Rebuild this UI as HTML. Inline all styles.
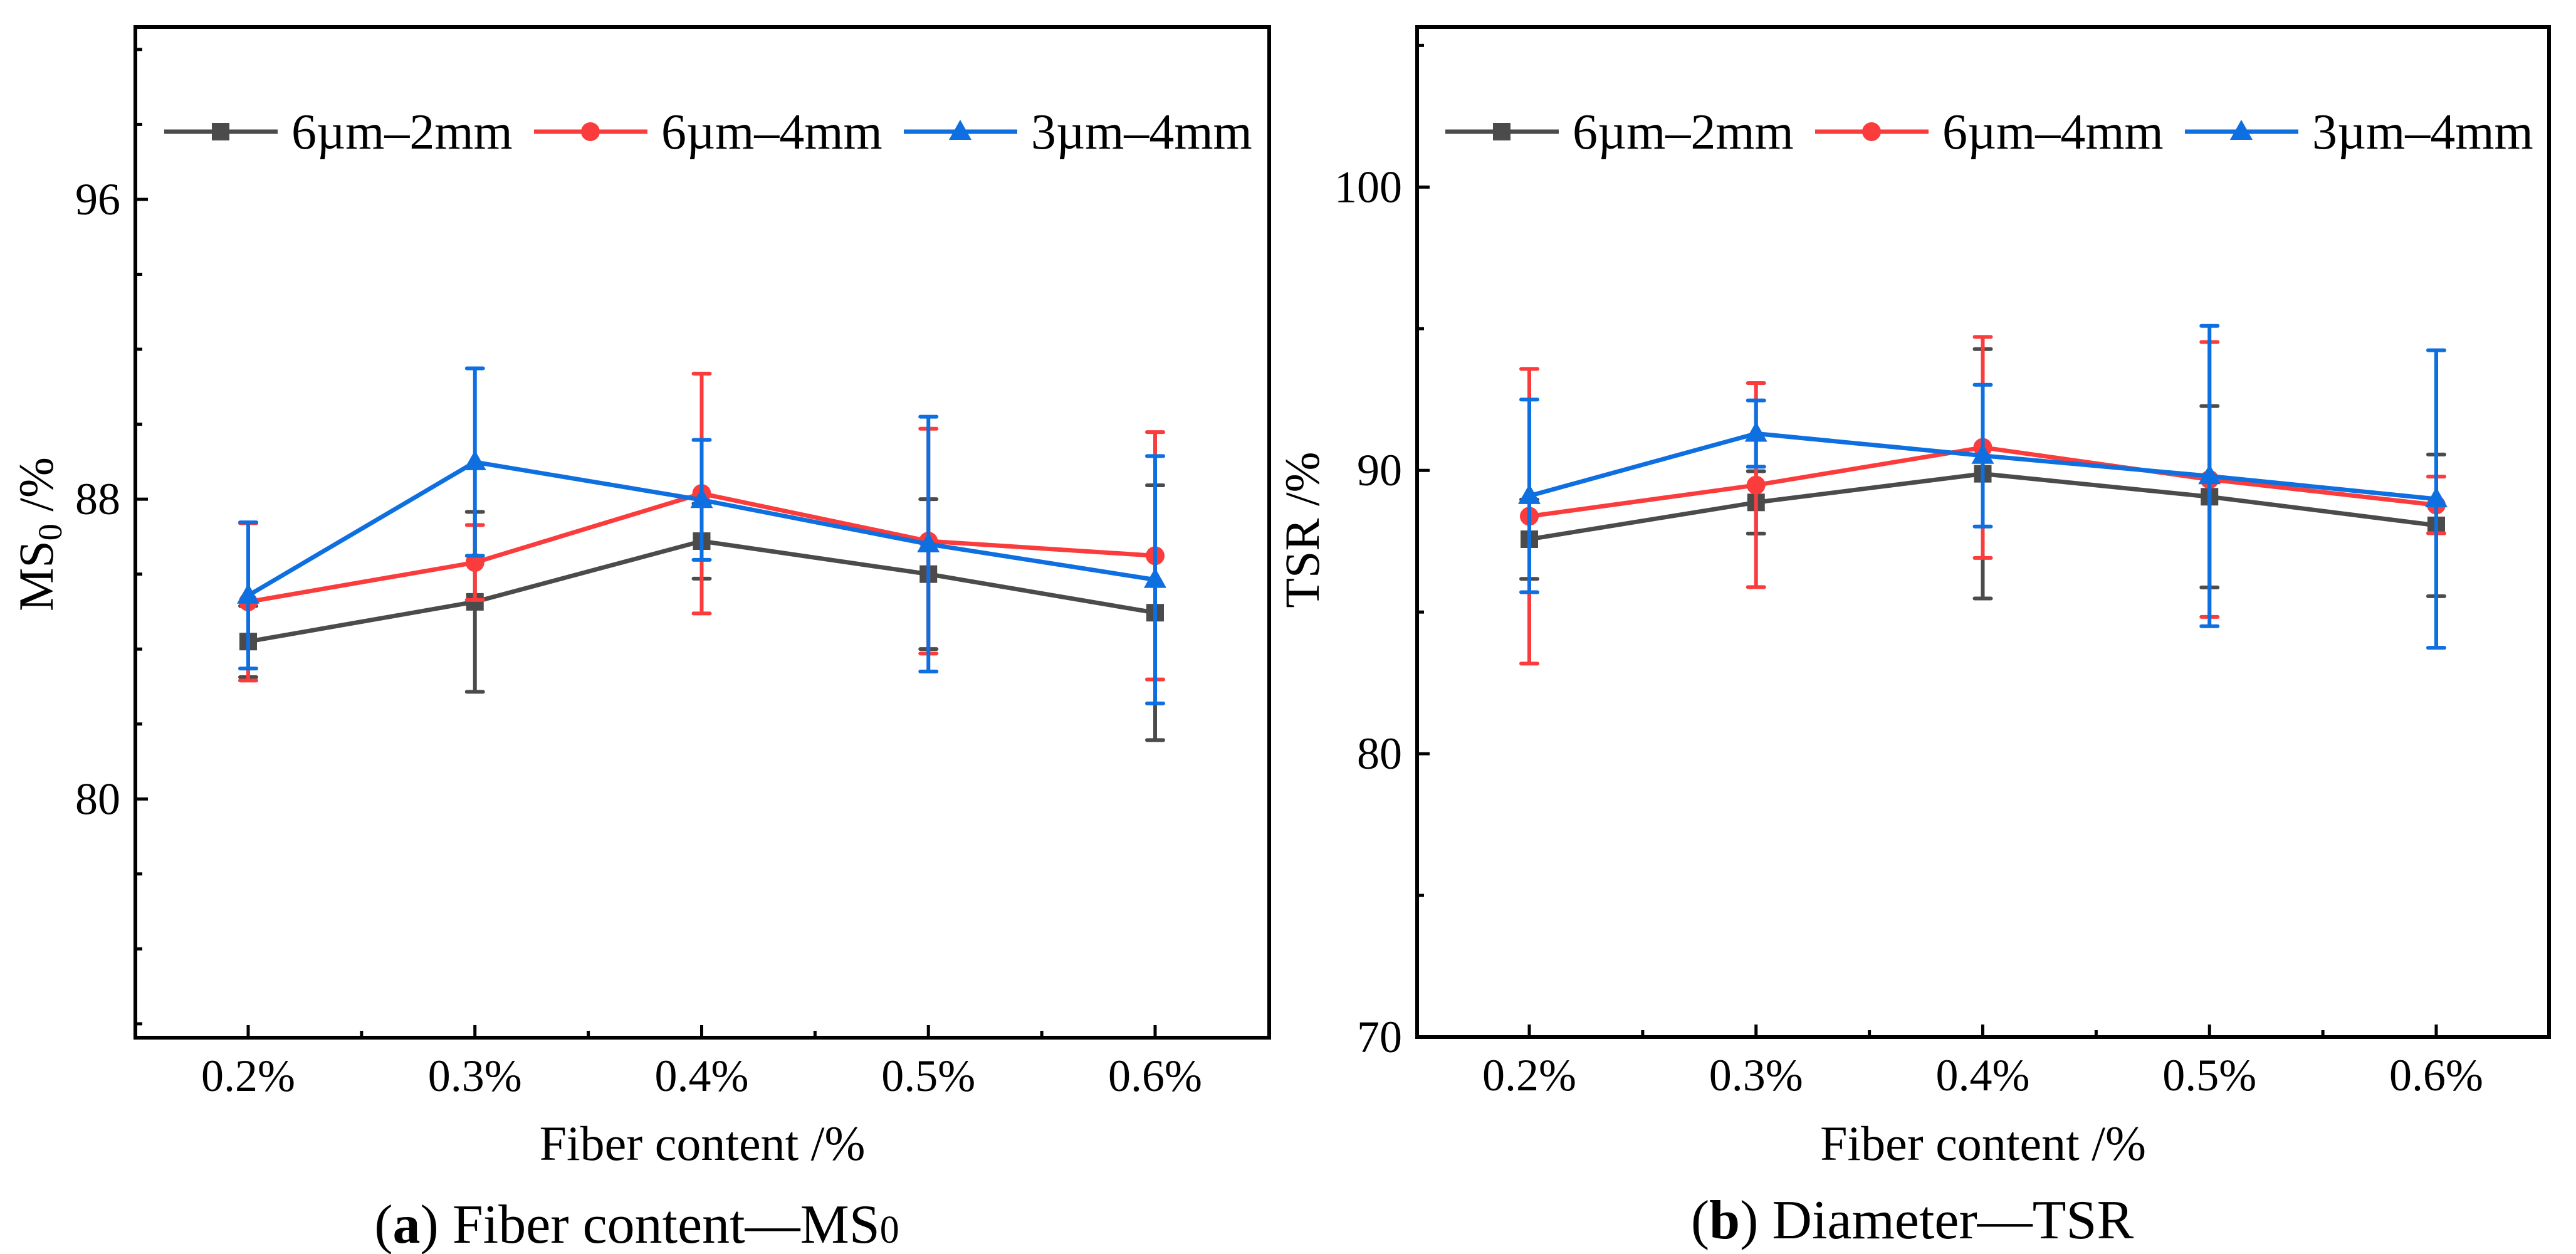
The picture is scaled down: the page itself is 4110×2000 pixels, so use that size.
<!DOCTYPE html>
<html><head><meta charset="utf-8"><style>
html,body{margin:0;padding:0;background:#fff;}
svg{display:block;font-family:"Liberation Serif",serif;}
</style></head><body>
<svg id="fig" width="4110" height="2000" viewBox="0 0 4110 2000"></svg>
<script>
const categories = ["0.2%","0.3%","0.4%","0.5%","0.6%"];
const seriesNames = ["6µm–2mm","6µm–4mm","3µm–4mm"];
// Panel a: MS0
const msBlack = [84.2, 85.26, 86.88, 86.0, 84.97];
const msBlackErr = [0.95, 2.4, 1.0, 2.0, 3.4];
const msRed = [85.26, 86.31, 88.15, 86.88, 86.49];
const msRedErr = [2.1, 1.0, 3.2, 3.0, 3.3];
const msBlue = [85.43, 88.99, 87.98, 86.8, 85.85];
const msBlueErr = [1.95, 2.5, 1.6, 3.4, 3.3];
const msTicks = [80, 88, 96];
// Panel b: TSR
const tsrBlack = [87.57, 88.87, 89.88, 89.07, 88.06];
const tsrBlackErr = [1.4, 1.1, 4.4, 3.2, 2.5];
const tsrRed = [88.38, 89.48, 90.81, 89.68, 88.78];
const tsrRedErr = [5.2, 3.6, 3.9, 4.85, 1.0];
const tsrBlue = [89.1, 91.3, 90.52, 89.8, 88.99];
const tsrBlueErr = [3.4, 1.17, 2.5, 5.3, 5.25];
const tsrTicks = [70, 80, 90, 100];

const NS = "http://www.w3.org/2000/svg";
const svg = document.getElementById('fig');
const colors = ["#4b4b4b","#fa3c3c","#0e6fe0"];
function mk(tag, attrs, parent){const e=document.createElementNS(NS,tag);for(const k in attrs)e.setAttribute(k,attrs[k]);(parent||svg).appendChild(e);return e;}

function panel(cfg){
  const g = mk('g',{});
  
  
  const {L,R,T,B,x0,x1,ymin,ymax,minorStep} = cfg;
  const xs = i => x0 + (x1-x0)*i/(categories.length-1);
  const ys = v => B - (v-ymin)/(ymax-ymin)*(B-T);
  const frame = mk('rect',{x:L,y:T,width:R-L,height:B-T,fill:'none',stroke:'#000','stroke-width':6},g);
  
  
  for(let v=Math.ceil(ymin/minorStep)*minorStep; v<=ymax; v+=minorStep){
    const y=ys(v); const major=cfg.ticks.includes(v);
    mk('line',{x1:L,x2:L+(major?20:11),y1:y,y2:y,stroke:'#000','stroke-width':5},g);
  }
  cfg.ticks.forEach(v=>{
    const t=mk('text',{x:L-24,y:ys(v)+24,'text-anchor':'end','font-size':72},g);
    t.textContent=v;
    
    
  });
  categories.forEach((c,i)=>{
    const x=xs(i);
    mk('line',{x1:x,x2:x,y1:B,y2:B-20,stroke:'#000','stroke-width':5},g);
    if(i<categories.length-1){const xm=(x+xs(i+1))/2;mk('line',{x1:xm,x2:xm,y1:B,y2:B-11,stroke:'#000','stroke-width':5},g);}
    const t=mk('text',{x:x,y:B+85,'text-anchor':'middle','font-size':72},g);
    t.textContent=c;
    
    
  });
  cfg.series.forEach((s,k)=>{
    const sg=mk('g',{},g);
    
    
    const col=colors[k];
    s.v.forEach((v,i)=>{
      const x=xs(i), yt=ys(v+s.e[i]), yb=ys(v-s.e[i]);
      mk('line',{x1:x,x2:x,y1:yt,y2:yb,stroke:col,'stroke-width':6},sg);
      mk('line',{x1:x-13,x2:x+13,y1:yt,y2:yt,stroke:col,'stroke-width':6,'stroke-linecap':'round'},sg);
      mk('line',{x1:x-13,x2:x+13,y1:yb,y2:yb,stroke:col,'stroke-width':6,'stroke-linecap':'round'},sg);
    });
    const pts=s.v.map((v,i)=>xs(i)+','+ys(v)).join(' ');
    const pl=mk('polyline',{points:pts,fill:'none',stroke:col,'stroke-width':7},sg);
    
    
    s.v.forEach((v,i)=>{
      const m=marker(k,xs(i),ys(v),sg);
      
      
    });
  });
  const lg=mk('g',{},g);
  
  
  seriesNames.forEach((n,k)=>{
    const lx=cfg.legX+k*590, ly=cfg.legY;
    const eg=mk('g',{},lg);
    
    
    mk('line',{x1:lx,x2:lx+181,y1:ly,y2:ly,stroke:colors[k],'stroke-width':7},eg);
    marker(k,lx+90,ly,eg);
    const t=mk('text',{x:lx+203,y:ly+27,'font-size':80},eg);
    t.textContent=n;
  });
  const xt=mk('text',{x:(L+R)/2,y:1850,'text-anchor':'middle','font-size':78},g);
  xt.textContent='Fiber content /%';
  
  
  const yt=mk('text',{transform:`translate(${cfg.ytX},${cfg.ytY}) rotate(-90)`,'text-anchor':'middle','font-size':78},g);
  yt.innerHTML=cfg.ytitle;
  
  
  const cap=mk('text',{x:cfg.capX,y:cfg.capY,'text-anchor':'middle','font-size':88},g);
  cap.innerHTML=cfg.caption;
  
  
}
function marker(k,x,y,p){
  if(k===0) return mk('rect',{x:x-14,y:y-14,width:28,height:28,fill:colors[0]},p);
  if(k===1) return mk('circle',{cx:x,cy:y,r:15,fill:colors[1]},p);
  return mk('polygon',{points:`${x},${y-19} ${x-18},${y+13} ${x+18},${y+13}`,fill:colors[2]},p);
}
panel({name:'panel-a-ms0',L:216,R:2025,T:43,B:1655,x0:396,x1:1843,ymin:73.63,ymax:100.6,minorStep:2,ticks:msTicks,
  series:[{v:msBlack,e:msBlackErr},{v:msRed,e:msRedErr},{v:msBlue,e:msBlueErr}],
  legX:262,legY:210,ytX:84,ytY:852,ytitle:'MS<tspan font-size="54" dy="14">0</tspan><tspan dy="-14"> /%</tspan>',
  capX:1016,capY:1982,caption:'(<tspan font-weight="bold">a</tspan>) Fiber content—MS<tspan font-size="62">0</tspan>'});
panel({name:'panel-b-tsr',L:2261,R:4067,T:43,B:1654,x0:2440,x1:3887,ymin:70,ymax:105.65,minorStep:5,ticks:tsrTicks,
  series:[{v:tsrBlack,e:tsrBlackErr},{v:tsrRed,e:tsrRedErr},{v:tsrBlue,e:tsrBlueErr}],
  legX:2306,legY:210,ytX:2104,ytY:845,ytitle:'TSR /%',
  capX:3051,capY:1975,caption:'(<tspan font-weight="bold">b</tspan>) Diameter—TSR'});
</script>
</body></html>
